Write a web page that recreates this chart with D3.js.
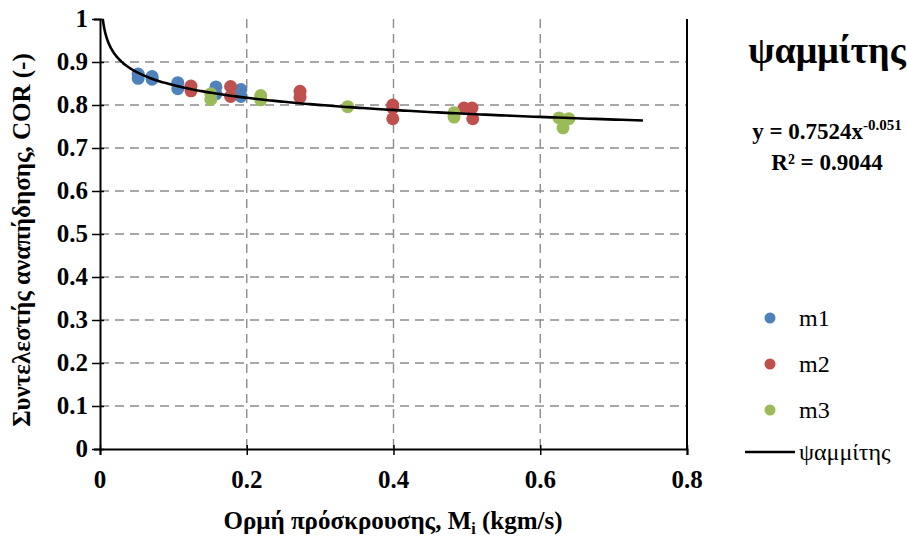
<!DOCTYPE html>
<html>
<head>
<meta charset="utf-8">
<script src="https://cdn.jsdelivr.net/npm/d3@7"></script>
</head>
<body style="margin:0">
<svg id="s" width="907" height="536"></svg>
<script>
// Measured series: impact momentum (kgm/s) vs coefficient of restitution
const m1X = [0.052, 0.052, 0.071, 0.071, 0.106, 0.106, 0.158, 0.158, 0.192, 0.192];
const m1Y = [0.872, 0.862, 0.866, 0.860, 0.852, 0.838, 0.842, 0.826, 0.836, 0.820];

const m2X = [0.124, 0.124, 0.178, 0.178, 0.2726, 0.2726, 0.399, 0.399, 0.399, 0.496, 0.507, 0.508];
const m2Y = [0.844, 0.833, 0.843, 0.820, 0.832, 0.818, 0.800, 0.793, 0.768, 0.793, 0.793, 0.768];

const m3X = [0.151, 0.151, 0.219, 0.219, 0.3376, 0.4825, 0.4825, 0.6256, 0.639, 0.631];
const m3Y = [0.826, 0.813, 0.822, 0.812, 0.796, 0.782, 0.772, 0.770, 0.768, 0.747];

// Power-law fit y = a * x^b
const fitA = 0.7524;
const fitB = -0.051;
const fitR2 = 0.9044;
const fitXMax = 0.74;

const xTicks = [0, 0.2, 0.4, 0.6, 0.8];
const yTicks = [0, 0.1, 0.2, 0.3, 0.4, 0.5, 0.6, 0.7, 0.8, 0.9, 1];

const seriesNames = ["m1", "m2", "m3"];
const seriesColors = ["#4F81BD", "#C0504D", "#9BBB59"];
const fitName = "ψαμμίτης";

const svg = d3.select("#s");
const plot = { left: 100, right: 687, top: 19, bottom: 449 };

const x = d3.scaleLinear().domain([0, 0.8]).range([plot.left, plot.right]);
const y = d3.scaleLinear().domain([0, 1]).range([plot.bottom, plot.top]);

// Helper: every label uses the serif face
function label(parent, size, bold) {
  return parent.append("text")
    .attr("font-family", "Liberation Serif")
    .style("font-family", "Liberation Serif")
    .attr("font-size", size)
    .attr("font-weight", bold ? "bold" : "normal")
    .attr("fill", "#000");
}

// Dashed grid
svg.append("g").selectAll("line")
  .data(yTicks.filter(v => v > 0 && v < 1))
  .join("line")
  .attr("x1", plot.left).attr("x2", plot.right)
  .attr("y1", d => y(d)).attr("y2", d => y(d))
  .attr("stroke", "#8c8c8c").attr("stroke-width", 1.4)
  .attr("stroke-dasharray", "9,6");

svg.append("g").selectAll("line")
  .data(xTicks.filter(v => v > 0 && v < 0.8))
  .join("line")
  .attr("x1", d => x(d)).attr("x2", d => x(d))
  .attr("y1", plot.top).attr("y2", plot.bottom)
  .attr("stroke", "#8c8c8c").attr("stroke-width", 1.4)
  .attr("stroke-dasharray", "9,6");

// Right border
svg.append("line")
  .attr("x1", plot.right).attr("x2", plot.right)
  .attr("y1", plot.top).attr("y2", plot.bottom)
  .attr("stroke", "#000").attr("stroke-width", 2);

// Scatter points
const series = [
  { xs: m1X, ys: m1Y },
  { xs: m2X, ys: m2Y },
  { xs: m3X, ys: m3Y }
];
series.forEach((s, i) => {
  svg.append("g").selectAll("circle")
    .data(s.xs.map((v, k) => [v, s.ys[k]]))
    .join("circle")
    .attr("cx", d => x(d[0]))
    .attr("cy", d => y(d[1]))
    .attr("r", 6.5)
    .attr("fill", seriesColors[i]);
});

// Trend curve, clipped to the plot area
const xStart = Math.pow(1 / fitA, 1 / fitB);
const curveX = d3.range(0, 401).map(i => xStart * Math.pow(fitXMax / xStart, i / 400));
svg.append("defs").append("clipPath").attr("id", "clip")
  .append("rect").attr("x", plot.left).attr("y", plot.top)
  .attr("width", plot.right - plot.left).attr("height", plot.bottom - plot.top);
svg.append("path")
  .datum(curveX)
  .attr("clip-path", "url(#clip)")
  .attr("fill", "none")
  .attr("stroke", "#000")
  .attr("stroke-width", 2.6)
  .attr("d", d3.line().x(d => x(d)).y(d => y(fitA * Math.pow(d, fitB))));

// Axes (tick marks and lines from d3; labels written separately in serif)
const xAxis = svg.append("g")
  .attr("transform", `translate(0,${plot.bottom})`)
  .call(d3.axisBottom(x).tickValues(xTicks).tickFormat("").tickSize(6));
const yAxis = svg.append("g")
  .attr("transform", `translate(${plot.left},0)`)
  .call(d3.axisLeft(y).tickValues(yTicks).tickFormat("").tickSize(6));

[xAxis, yAxis].forEach(g => {
  g.select(".domain").attr("stroke", "#000").attr("stroke-width", 2);
  g.selectAll(".tick line").attr("stroke", "#000").attr("stroke-width", 1.5);
  g.selectAll(".tick text").remove();
});
xAxis.selectAll(".tick line").attr("y1", -4);
yAxis.selectAll(".tick line").attr("x1", 4).attr("x2", -8);

const fmt = d => String(+d.toFixed(1));
xTicks.forEach(v => {
  label(svg, 25, true)
    .attr("x", x(v)).attr("y", plot.bottom + 39)
    .attr("text-anchor", "middle")
    .text(fmt(v));
});
yTicks.forEach(v => {
  label(svg, 25, true)
    .attr("x", plot.left - 12).attr("y", y(v) + 8)
    .attr("text-anchor", "end")
    .text(fmt(v));
});

// Axis titles
const xTitle = label(svg, 25, true)
  .attr("x", 393).attr("y", 529)
  .attr("text-anchor", "middle");
xTitle.append("tspan").text("Ορμή πρόσκρουσης, M");
xTitle.append("tspan").attr("dy", 5).attr("font-size", 16).text("i");
xTitle.append("tspan").attr("dy", -5).text(" (kgm/s)");

label(svg, 25, true)
  .attr("transform", "translate(30,240) rotate(-90)")
  .attr("text-anchor", "middle")
  .text("Συντελεστής αναπήδησης, COR (-)");

// Title and fit equation
label(svg, 38, true)
  .attr("x", 827).attr("y", 63)
  .attr("text-anchor", "middle")
  .text(fitName);

const eq = label(svg, 23, true)
  .attr("x", 827).attr("y", 139)
  .attr("text-anchor", "middle");
eq.append("tspan").text(`y = ${fitA}x`);
eq.append("tspan").attr("dy", -9).attr("font-size", 15).text(String(fitB));

label(svg, 23, true)
  .attr("x", 827).attr("y", 170)
  .attr("text-anchor", "middle")
  .text(`R² = ${fitR2}`);

// Legend
const legY = [318, 364, 410];
const legLine = [745, 795];
const legText = 799;
seriesNames.forEach((name, i) => {
  svg.append("circle")
    .attr("cx", (legLine[0] + legLine[1]) / 2).attr("cy", legY[i]).attr("r", 5.5)
    .attr("fill", seriesColors[i]);
  label(svg, 24, false)
    .attr("x", legText).attr("y", legY[i] + 8)
    .text(name);
});
svg.append("line")
  .attr("x1", legLine[0]).attr("x2", legLine[1]).attr("y1", 452).attr("y2", 452)
  .attr("stroke", "#000").attr("stroke-width", 2.6);
label(svg, 24, false)
  .attr("x", legText).attr("y", 460)
  .text(fitName);
</script>
</body>
</html>
